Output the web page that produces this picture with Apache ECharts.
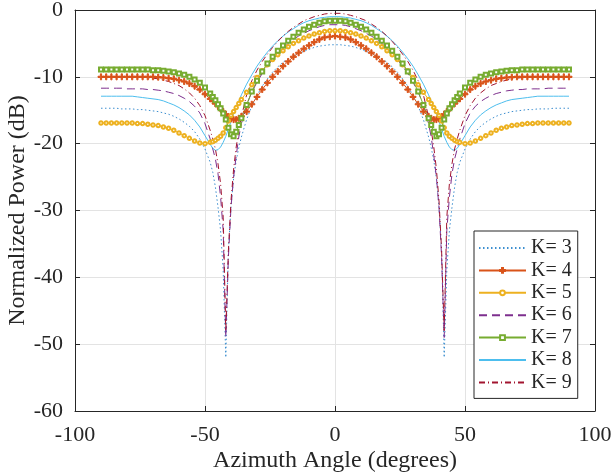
<!DOCTYPE html>
<html>
<head>
<meta charset="utf-8">
<script src="https://cdn.jsdelivr.net/npm/echarts@6/dist/echarts.min.js"></script>
<style>
  html, body { margin: 0; padding: 0; background: #fff; }
  #chart { width: 612px; height: 476px; }
</style>
</head>
<body>
<div id="chart"></div>
<script>
// angles (deg) for one half of the pattern; the plot is symmetric about 0
const angles = [0, 2, 4, 6, 8, 10, 12, 14, 16, 18, 20, 22, 24, 26, 28, 30, 32, 34, 36,
    37, 38, 39, 40, 41, 42, 43, 44, 45, 46, 47, 48,
    50, 52, 54, 56, 58, 60, 62, 64, 66, 68, 70, 72, 74, 76, 78, 80, 82, 84, 86, 88, 90];

const k3 = [-5.2, -5.2, -5.3, -5.4, -5.6, -5.9, -6.2, -6.5, -6.9, -7.3, -7.8, -8.5, -9.3, -10.3, -11.4, -12.8, -14.4, -16.4, -19.0,
    -20.6, -22.5, -25.2, -29.5, -36, -52, -39, -33, -29.5, -26.5, -24.3, -22.8,
    -20.8, -19.3, -18.2, -17.4, -16.8, -16.3, -15.9, -15.6, -15.4, -15.2, -15.1, -15.0, -14.9, -14.9, -14.8, -14.8, -14.8, -14.7, -14.7, -14.7, -14.7];
const k4 = [-3.9, -4.0, -4.1, -4.4, -4.8, -5.3, -5.8, -6.4, -7.0, -7.7, -8.4, -9.2, -10.0, -10.9, -11.9, -13.0, -14.1, -15.2, -15.9,
    -16.2, -16.4, -16.4, -16.3, -16.0, -15.6, -15.2, -14.8, -14.4, -14.0, -13.6, -13.3,
    -12.6, -11.9, -11.4, -11.0, -10.7, -10.5, -10.3, -10.2, -10.1, -10.05, -10.0, -10.0, -10.0, -10.0, -10.0, -10.0, -10.0, -10.0, -10.0, -10.0, -10.0];
const k5 = [-3.1, -3.1, -3.2, -3.4, -3.6, -3.9, -4.2, -4.6, -5.0, -5.5, -6.1, -6.7, -7.4, -8.2, -9.1, -10.1, -11.2, -12.3, -13.4,
    -14.0, -14.6, -15.2, -15.8, -16.6, -17.6, -18.4, -18.9, -19.2, -19.5, -19.7, -19.8,
    -20.0, -19.9, -19.6, -19.2, -18.8, -18.4, -18.0, -17.7, -17.5, -17.3, -17.2, -17.1, -17.0, -17.0, -16.9, -16.9, -16.9, -16.9, -16.9, -16.9, -16.9];
const k6 = [-2.2, -2.2, -2.3, -2.5, -2.8, -3.1, -3.5, -3.9, -4.4, -5.0, -5.7, -6.5, -7.4, -8.4, -9.5, -10.8, -12.3, -14.2, -17.0,
    -19.0, -21.8, -25.0, -29.5, -37, -49, -33, -28, -24.5, -22.3, -20.8, -19.3,
    -17.0, -15.4, -14.4, -13.7, -13.2, -12.8, -12.5, -12.3, -12.1, -12.0, -11.9, -11.9, -11.8, -11.8, -11.8, -11.8, -11.7, -11.7, -11.7, -11.7, -11.7];
const k7 = [-1.6, -1.6, -1.7, -1.9, -2.2, -2.5, -2.9, -3.4, -4.0, -4.6, -5.3, -6.1, -7.0, -8.0, -9.2, -10.6, -12.2, -14.2, -16.2,
    -17.2, -18.2, -18.9, -18.6, -17.6, -16.4, -15.5, -14.7, -14.1, -13.5, -13.0, -12.5,
    -11.6, -10.9, -10.4, -10.0, -9.7, -9.5, -9.3, -9.2, -9.1, -9.0, -9.0, -8.9, -8.9, -8.9, -8.9, -8.9, -8.9, -8.9, -8.9, -8.9, -8.9];
const k8 = [-1.0, -1.0, -1.1, -1.2, -1.4, -1.6, -1.9, -2.3, -2.8, -3.3, -3.9, -4.6, -5.4, -6.3, -7.3, -8.4, -9.7, -11.1, -12.7,
    -13.6, -14.6, -15.6, -16.7, -17.8, -18.9, -19.8, -20.5, -20.9, -21.0, -20.7, -20.1,
    -18.8, -17.5, -16.5, -15.7, -15.1, -14.6, -14.2, -13.9, -13.6, -13.4, -13.3, -13.2, -13.1, -13.0, -12.9, -12.9, -12.9, -12.9, -12.9, -12.9, -12.9];
const k9 = [-0.5, -0.5, -0.6, -0.8, -1.0, -1.3, -1.6, -2.1, -2.6, -3.2, -3.9, -4.7, -5.6, -6.6, -7.7, -9.0, -10.6, -12.7, -16.0,
    -18.0, -20.5, -23.8, -28.5, -36, -48, -31, -26, -23, -20.8, -19.3, -18.0,
    -15.8, -14.3, -13.2, -12.4, -11.8, -11.3, -11.0, -10.7, -10.5, -10.3, -10.2, -10.1, -10.05, -10.0, -10.0, -10.0, -10.0, -10.0, -10.0, -10.0, -10.0];

const legendNames = ['K= 3', 'K= 4', 'K= 5', 'K= 6', 'K= 7', 'K= 8', 'K= 9'];
const xTicks = { min: -100, max: 100, interval: 50 };
const yTicks = { min: -60, max: 0, interval: 10 };

// mirror a half pattern into [-90..90] pairs
function both(vals) {
    const out = [];
    for (let i = angles.length - 1; i > 0; i--) out.push([-angles[i], vals[i]]);
    for (let i = 0; i < angles.length; i++) out.push([angles[i], vals[i]]);
    return out;
}

const font = '"Liberation Serif", "DejaVu Serif", serif';
const ink = '#262626';
const plus = 'path://M4,0h2v4h4v2h-4v4h-2v-4h-4v-2h4z';

function line(name, vals, color, type, symbol, size) {
    return {
        name: name,
        type: 'line',
        data: both(vals),
        symbol: symbol || 'none',
        symbolSize: size || 0,
        showAllSymbol: true,
        lineStyle: { color: color, width: 1, type: type },
        itemStyle: { color: color, borderColor: color, borderWidth: 1 },
        z: 3,
    };
}

const series = [
    line(legendNames[0], k3, '#3d8fd0', [1.5, 2.5]),
    line(legendNames[1], k4, '#d95319', 'solid', plus, 6),
    line(legendNames[2], k5, '#edb120', 'solid', 'emptyCircle', 3.5),
    line(legendNames[3], k6, '#7e2f8e', [8, 5]),
    line(legendNames[4], k7, '#77ac30', 'solid', 'emptyRect', 4),
    line(legendNames[5], k8, '#4dbeee', 'solid'),
    line(legendNames[6], k9, '#a2142f', [6, 3, 1, 3]),
];

const chart = echarts.init(document.getElementById('chart'), null, { renderer: 'canvas' });
chart.setOption({
    animation: false,
    backgroundColor: '#fff',
    grid: { left: 75, right: 17, top: 10, bottom: 65, containLabel: false, outerBoundsMode: 'none' },
    xAxis: [
        {
            type: 'value', min: xTicks.min, max: xTicks.max, interval: xTicks.interval,
            name: 'Azimuth Angle (degrees)', nameLocation: 'middle', nameGap: 38, nameMoveOverlap: false,
            nameTextStyle: { fontFamily: font, fontSize: 24, color: ink },
            axisLine: { onZero: false, lineStyle: { color: ink, width: 1 } },
            axisTick: { inside: true, length: 5, lineStyle: { color: ink } },
            axisLabel: { fontFamily: font, fontSize: 22, color: ink, margin: 13 },
            splitLine: { show: true, lineStyle: { color: '#e3e3e3', width: 1 } },
        },
        {
            type: 'value', position: 'top', min: xTicks.min, max: xTicks.max, interval: xTicks.interval,
            axisLine: { onZero: false, lineStyle: { color: ink, width: 1 } },
            axisTick: { inside: true, length: 5, lineStyle: { color: ink } },
            axisLabel: { show: false },
            splitLine: { show: false },
        },
    ],
    yAxis: [
        {
            type: 'value', min: yTicks.min, max: yTicks.max, interval: yTicks.interval,
            name: 'Normalized Power (dB)', nameLocation: 'middle', nameGap: 45, nameMoveOverlap: false,
            nameTextStyle: { fontFamily: font, fontSize: 24, color: ink },
            axisLine: { show: true, onZero: false, lineStyle: { color: ink, width: 1 } },
            axisTick: { show: true, inside: true, length: 5, lineStyle: { color: ink } },
            axisLabel: { fontFamily: font, fontSize: 22, color: ink, margin: 12 },
            splitLine: { show: true, lineStyle: { color: '#e3e3e3', width: 1 } },
        },
        {
            type: 'value', position: 'right', min: yTicks.min, max: yTicks.max, interval: yTicks.interval,
            axisLine: { show: true, onZero: false, lineStyle: { color: ink, width: 1 } },
            axisTick: { show: true, inside: true, length: 5, lineStyle: { color: ink } },
            axisLabel: { show: false },
            splitLine: { show: false },
        },
    ],
    legend: {
        orient: 'vertical',
        left: 474, top: 231,
        padding: [7, 6, 6, 4],
        itemWidth: 47, itemHeight: 6, itemGap: 2.4,
        backgroundColor: '#fff',
        borderColor: ink, borderWidth: 1, borderRadius: 0,
        textStyle: { fontFamily: font, fontSize: 20, lineHeight: 20, color: ink },
        data: legendNames.map(function (n, i) {
            const s = series[i];
            return s.symbol === 'none' ? { name: n, itemStyle: { opacity: 0 } } : { name: n };
        }),
    },
    series: series,
});
</script>
</body>
</html>
